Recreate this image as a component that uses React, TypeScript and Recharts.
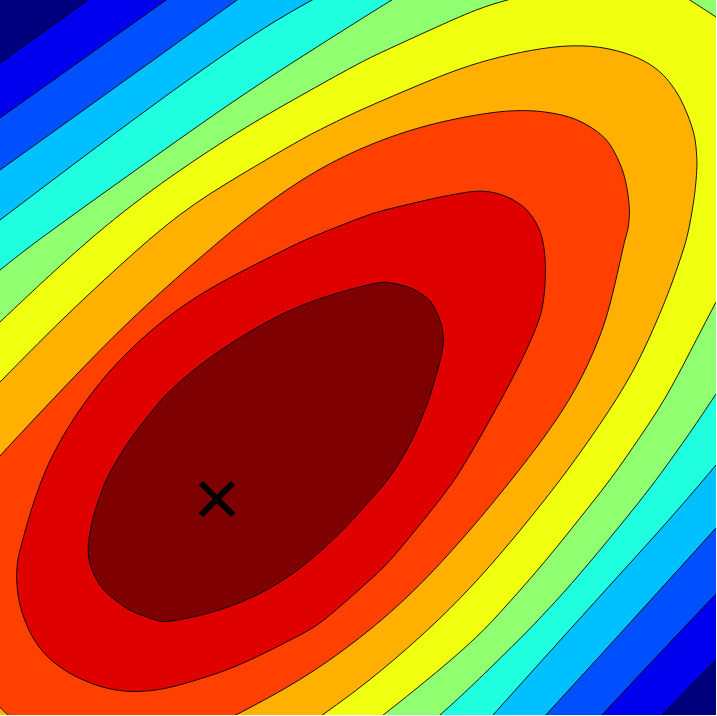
import React from 'react';
import { ComposedChart, Area, XAxis, YAxis, Scatter } from 'recharts';

// Jet colours of the filled bands, lowest to highest
const bandColors = ['#00007F', '#0000EE', '#0050FF', '#00C0FF', '#20FFE0', '#90FF70', '#F0FF10', '#FFB000', '#FF4000', '#DF0000', '#7F0000'];

// Each filled level: x positions and the upper / lower contour boundaries (pixel-like units, y measured from top)
const lvl0X = [0, 716];
const lvl0Upper = [-80, -80];
const lvl0Lower = [850, 850];

const lvl1X = [0, 88, 130, 200, 600, 661, 716];
const lvl1Upper = [63, 0, -30, -80, -80, -80, -80];
const lvl1Lower = [850, 850, 850, 850, 778, 716, 660];

const lvl2X = [0, 83, 166, 230, 300, 540, 601, 658, 716];
const lvl2Upper = [118, 59, 0, -45, -80, -80, -80, -80, -80];
const lvl2Lower = [850, 850, 850, 850, 850, 781, 716, 655, 594];

const lvl3X = [0, 120, 237, 300, 380, 480, 545, 630, 716];
const lvl3Upper = [170, 84, 0, -45, -80, -80, -80, -80, -80];
const lvl3Lower = [850, 850, 850, 850, 850, 787, 716, 623, 528];

const lvl4X = [0, 120, 240, 310, 380, 460, 492, 600, 673, 716];
const lvl4Upper = [220, 129, 42, 0, -35, -75, -80, -80, -80, -80];
const lvl4Lower = [850, 850, 850, 850, 840, 752, 716, 596, 516, 465];

const lvl5X = [0, 35, 140, 240, 320, 391, 439, 460, 479, 525, 540, 570, 610, 640, 660, 690, 716];
const lvl5Upper = [270, 242, 167, 96, 45, 0, -28, -40, -50, -75, -80, -80, -80, -80, -80, -80, -80];
const lvl5Lower = [850, 850, 850, 850, 815, 758, 716, 697, 679, 634, 618, 586, 538, 501, 475, 433, 394];

const lvl6X = [0, 88, 160, 240, 300, 359, 382, 430, 479, 507, 545, 580, 612, 640, 665, 690, 716];
const lvl6Upper = [322, 239, 183, 130, 96, 63, 52, 30, 8, 0, -10, -18, -22, -21, -15, 0, 17];
const lvl6Lower = [850, 850, 850, 830, 780, 734, 716, 678, 636, 605, 562, 518, 478, 437, 400, 352, 302];

const lvl7X = [0, 60, 120, 180, 240, 300, 321, 360, 400, 440, 479, 520, 563, 600, 634, 657, 670, 680, 688, 694, 695.5, 696.5, 697];
const lvl7Upper = [382, 321, 265, 212, 175, 140, 129, 110, 93, 76, 62, 52, 45, 46, 55, 68, 82, 97, 115, 133, 142, 151, 164];
const lvl7Lower = [850, 850, 835, 805, 770, 731, 716, 688, 655, 619, 579, 531, 477, 425, 372, 321, 289, 260, 236, 200, 187, 176, 164];

const lvl8X = [0, 7, 100, 160, 222, 240, 300, 359, 420, 479, 513, 545, 577, 600, 610, 620, 625, 628, 629, 629.5];
const lvl8Upper = [456, 448, 349, 292, 239, 224, 179, 148, 126, 114, 110, 111, 118, 133, 143, 163, 177, 194, 202, 212];
const lvl8Lower = [707, 716, 775, 750, 722, 713, 681, 640, 587, 520, 478, 437, 389, 338, 306, 262, 239, 230, 222, 212];

const lvl9X = [16.5, 17, 18, 20, 28, 42, 65, 100, 133, 167, 200, 240, 304, 322, 372, 389, 439, 457, 478, 500, 520, 532, 540, 543, 545, 545.5];
const lvl9Upper = [577, 566, 558, 550, 520, 476, 430, 381, 346, 317, 294, 272, 240, 233, 213, 209, 197, 194, 190, 193, 203, 215, 230, 241, 254, 271];
const lvl9Lower = [577, 587, 595, 607, 630, 653, 672, 688, 693, 689, 679, 666, 633, 623, 578, 563, 501, 477, 441, 402, 364, 338, 318, 305, 288, 271];

const lvl10X = [88, 88.5, 90, 93, 100, 107, 127, 133, 160, 167, 200, 240, 289, 339, 379, 389, 406, 416, 429, 432, 442, 443.5];
const lvl10Upper = [549, 541, 533, 516, 496, 476, 444, 435, 401, 393, 364, 337, 309, 292, 282, 282, 286, 290, 299, 303, 322, 340];
const lvl10Lower = [549, 557, 565, 573, 586, 594, 609, 612, 622, 622, 616, 604, 579, 536, 490, 479, 452, 432, 400, 389, 356, 340];

// Marked point
const markerX = [217];
const markerY = [499];

const levels = [
  [lvl0X, lvl0Upper, lvl0Lower],
  [lvl1X, lvl1Upper, lvl1Lower],
  [lvl2X, lvl2Upper, lvl2Lower],
  [lvl3X, lvl3Upper, lvl3Lower],
  [lvl4X, lvl4Upper, lvl4Lower],
  [lvl5X, lvl5Upper, lvl5Lower],
  [lvl6X, lvl6Upper, lvl6Lower],
  [lvl7X, lvl7Upper, lvl7Lower],
  [lvl8X, lvl8Upper, lvl8Lower],
  [lvl9X, lvl9Upper, lvl9Lower],
  [lvl10X, lvl10Upper, lvl10Lower],
];

const makeBand = (xs: number[], upper: number[], lower: number[]) =>
  xs.map((x, i) => ({ x, band: [upper[i], lower[i]] }));

const markerData = markerX.map((x, i) => ({ x, y: markerY[i] }));

const CrossShape = (props: any) => {
  const { cx, cy } = props;
  const s = 16;
  return (
    <g>
      <line x1={cx - s} y1={cy - s} x2={cx + s} y2={cy + s} stroke="#000" strokeWidth={6} />
      <line x1={cx - s} y1={cy + s} x2={cx + s} y2={cy - s} stroke="#000" strokeWidth={6} />
    </g>
  );
};

export default function App() {
  return (
    <div style={{ position: 'absolute', left: 0, top: 0 }}>
      <ComposedChart width={716} height={715} margin={{ top: 0, right: 0, bottom: 0, left: 0 }}>
        <XAxis dataKey="x" type="number" domain={[0, 716]} allowDataOverflow hide />
        <YAxis type="number" domain={[0, 715]} reversed allowDataOverflow hide />
        {levels.map(([xs, up, lo], i) => (
          <Area
            key={'lvl' + i}
            data={makeBand(xs, up, lo)}
            dataKey="band"
            type="basis"
            fill={bandColors[i]}
            fillOpacity={1}
            stroke={i === 0 ? 'none' : '#000'}
            strokeWidth={0.9}
            dot={false}
            activeDot={false}
            isAnimationActive={false}
          />
        ))}
        <Scatter data={markerData} dataKey="y" shape={CrossShape} isAnimationActive={false} />
      </ComposedChart>
    </div>
  );
}
